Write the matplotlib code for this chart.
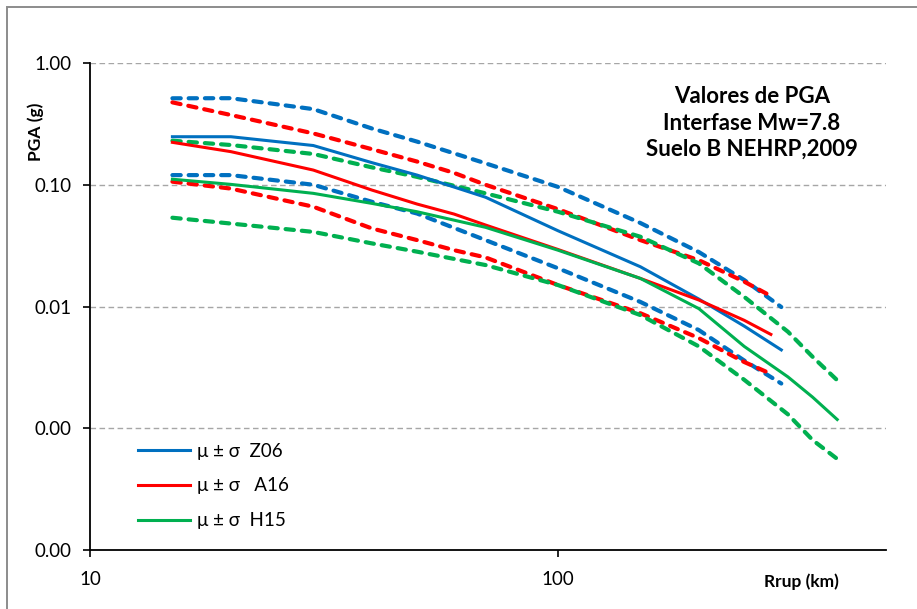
import matplotlib
matplotlib.use("Agg")
import matplotlib.pyplot as plt
from matplotlib.patches import Rectangle
from matplotlib.ticker import FixedLocator, StrMethodFormatter, NullLocator

plt.rcParams["font.family"] = ["Lato", "DejaVu Sans"]

# Rrup (km) and PGA (g): mean, mean+sigma, mean-sigma per model
R_Z06 = [15, 20, 30, 40, 50, 70, 100, 150, 200, 250, 300]
Z06_mu = [0.248, 0.248, 0.21, 0.152, 0.12, 0.079, 0.0419, 0.0212, 0.0115, 0.0069, 0.0044]
Z06_hi = [0.513, 0.514, 0.418, 0.29, 0.226, 0.15, 0.096, 0.0485, 0.028, 0.0165, 0.0099]
Z06_lo = [0.12, 0.12, 0.10, 0.0725, 0.058, 0.0351, 0.0206, 0.0109, 0.0064, 0.0036, 0.00233]

R_A16 = [15, 20, 30, 40, 50, 60, 70, 100, 150, 200, 250, 285]
A16_mu = [0.223, 0.187, 0.132, 0.0905, 0.0694, 0.0574, 0.0467, 0.0294, 0.017, 0.0113, 0.0077, 0.0059]
A16_hi = [0.475, 0.374, 0.264, 0.196, 0.155, 0.125, 0.10, 0.063, 0.0351, 0.024, 0.016, 0.0122]
A16_lo = [0.106, 0.093, 0.066, 0.0438, 0.0351, 0.029, 0.0253, 0.015, 0.0088, 0.0055, 0.0035, 0.0028]

R_H15 = [15, 20, 30, 40, 50, 70, 100, 150, 200, 250, 310, 350, 395]
H15_mu = [0.111, 0.1007, 0.085, 0.0703, 0.060, 0.0447, 0.029, 0.017, 0.0096, 0.0047, 0.00264, 0.0018, 0.00118]
H15_hi = [0.23, 0.212, 0.179, 0.139, 0.116, 0.085, 0.060, 0.0374, 0.0226, 0.012, 0.0062, 0.00386, 0.00248]
H15_lo = [0.0536, 0.048, 0.041, 0.033, 0.0282, 0.0219, 0.015, 0.0085, 0.0047, 0.0025, 0.0013, 0.0008, 0.00056]

labels = ["\u03bc \u00b1 \u03c3  Z06", "\u03bc \u00b1 \u03c3   A16", "\u03bc \u00b1 \u03c3  H15"]
colors = ["#0070C0", "#FF0000", "#00B050"]

W, H = 917, 609
fig = plt.figure(figsize=(W / 100, H / 100), dpi=100)
ax = fig.add_axes([90 / W, 1 - 550 / H, (886 - 90) / W, (550 - 63) / H])

series = [(R_Z06, Z06_mu, Z06_hi, Z06_lo),
          (R_A16, A16_mu, A16_hi, A16_lo),
          (R_H15, H15_mu, H15_hi, H15_lo)]
handles = []
for (r, mu, hi, lo), c, lab in zip(series, colors, labels):
    for band in (hi, lo):
        ax.plot(r, band, color=c, lw=3.0, dashes=(2.0, 1.9),
                dash_capstyle="round", zorder=3)
    h, = ax.plot(r, mu, color=c, lw=2.2, label=lab, zorder=4)
    handles.append(h)

ax.set_xscale("log")
ax.set_yscale("log")
ax.set_xlim(10, 10 ** (1 + (886 - 90) / 468))
ax.set_ylim(1e-4, 1.0)

ax.xaxis.set_major_locator(FixedLocator([10, 100]))
ax.xaxis.set_minor_locator(NullLocator())
ax.xaxis.set_major_formatter(StrMethodFormatter("{x:.0f}"))
ax.yaxis.set_major_locator(FixedLocator([1e-4, 1e-3, 1e-2, 1e-1, 1.0]))
ax.yaxis.set_minor_locator(NullLocator())
ax.yaxis.set_major_formatter(StrMethodFormatter("{x:.2f}"))

for y in (1e-3, 1e-2, 1e-1, 1.0):
    ax.axhline(y, color="#A6A6A6", lw=1.0, dashes=(4, 2.5), zorder=1)

for s in ("top", "right"):
    ax.spines[s].set_visible(False)
for s in ("left", "bottom"):
    ax.spines[s].set_linewidth(1.3)
ax.tick_params(axis="y", direction="out", length=5, width=1.2, pad=8,
               labelsize=13.5)
ax.tick_params(axis="x", direction="out", length=5, width=1.2, pad=10,
               labelsize=13.5)

fig.text(36 / W, 1 - 132 / H, "PGA (g)", rotation=90, fontsize=12.5,
         fontweight="bold", ha="center", va="center")
fig.text(801 / W, 1 - 582 / H, "Rrup (km)", fontsize=12.5,
         fontweight="bold", ha="center", va="center")
fig.text(752 / W, 1 - 123 / H,
         "Valores de PGA\nInterfase Mw=7.8\nSuelo B NEHRP,2009",
         fontsize=16, fontweight="bold", ha="center", va="center",
         linespacing=1.3)

ax.legend(handles=handles, loc="upper left", frameon=False,
          bbox_to_anchor=(40 / (886 - 90), 1 - (435 - 63) / (550 - 63)),
          fontsize=13.5, handlelength=2.8, handletextpad=0.35,
          labelspacing=0.95, borderaxespad=0)

fig.patches.append(Rectangle((6.5 / W, -0.1), 1.2, 1 - 6.5 / H + 0.1,
                             transform=fig.transFigure, fill=False,
                             edgecolor="#8C8C8C", lw=1.4))

fig.savefig("out.png", dpi=100)
